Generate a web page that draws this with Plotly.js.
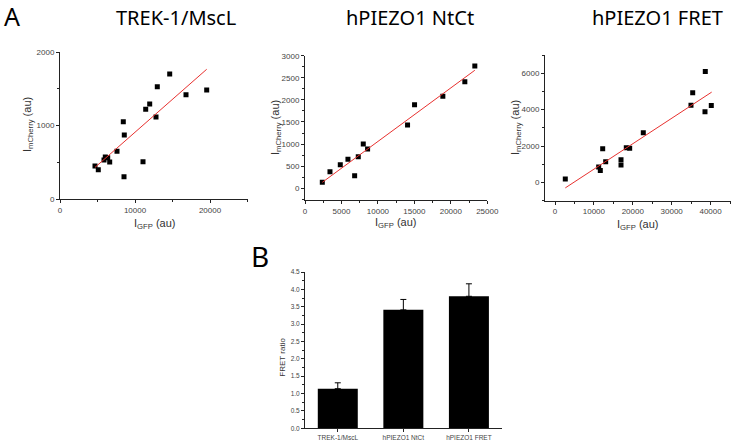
<!DOCTYPE html>
<html>
<head>
<meta charset="utf-8">
<script src="https://cdn.plot.ly/plotly-3.0.1.min.js"></script>
<style>html,body{margin:0;padding:0;background:#fff;}#chart{width:733px;height:441px;}</style>
</head>
<body>
<div id="chart"></div>
<script>
// Panel A1: TREK-1/MscL
const trekGFP = [4667,5107,5867,6040,6360,6627,7600,8440,8573,8533,11067,11427,11960,12800,12973,14627,16800,19560];
const trekCherry = [449,399,531,571,562,503,649,1052,871,303,508,1220,1292,1116,1528,1700,1419,1483];
const trekFitX = [4667,19560];
const trekFitY = [430,1765];
// Panel A2: hPIEZO1 NtCt
const ntctGFP = [2374,3425,4840,5890,6808,7306,7991,8584,14064,15023,18904,21918,23288];
const ntctCherry = [135,376,535,656,285,716,1002,889,1432,1892,2081,2412,2767];
const ntctFitX = [2374,23288];
const ntctFitY = [135,2670];
// Panel A3: hPIEZO1 FRET
const fretGFP = [2650,11230,11650,12260,13030,16970,16970,18330,19200,22700,34960,35400,38560,38640,40180];
const fretCherry = [198,857,659,1846,1132,1242,967,1901,1885,2725,4247,4923,3879,6099,4231];
const fretFitX = [2650,40280];
const fretFitY = [-297,4962];
// Panel B: FRET ratio bars
const barCats = ['TREK-1/MscL','hPIEZO1 NtCt','hPIEZO1 FRET'];
const barVals = [1.14,3.41,3.80];
const barErr = [0.17,0.30,0.36];

const W = 733, H = 441;
const px = v => v / W;
const py = v => 1 - v / H;

const mk = {symbol:'square', size:5, color:'#000'};
const ln = {color:'#e8312f', width:1};
const traces = [
  {x:trekGFP, y:trekCherry, type:'scatter', mode:'markers', marker:mk, xaxis:'x', yaxis:'y'},
  {x:trekFitX, y:trekFitY, type:'scatter', mode:'lines', line:ln, xaxis:'x', yaxis:'y'},
  {x:ntctGFP, y:ntctCherry, type:'scatter', mode:'markers', marker:mk, xaxis:'x2', yaxis:'y2'},
  {x:ntctFitX, y:ntctFitY, type:'scatter', mode:'lines', line:ln, xaxis:'x2', yaxis:'y2'},
  {x:fretGFP, y:fretCherry, type:'scatter', mode:'markers', marker:mk, xaxis:'x3', yaxis:'y3'},
  {x:fretFitX, y:fretFitY, type:'scatter', mode:'lines', line:ln, xaxis:'x3', yaxis:'y3'},
  {x:barCats, y:barVals, type:'bar', width:0.61, marker:{color:'#000'},
   error_y:{type:'data', array:barErr, arrayminus:[0,0,0], symmetric:false, color:'#000', thickness:1, width:3},
   xaxis:'x4', yaxis:'y4'}
];

const tickFont = {family:'Liberation Sans, Arial, sans-serif', size:8, color:'#444'};
function ax(domain, range, dtick, minorDtick, anchor, fontSize, fmt) {
  const a = {
    domain: domain, range: range, anchor: anchor,
    showgrid:false, zeroline:false, showline:true, linecolor:'#222', linewidth:1,
    ticks:'outside', ticklen:3, tickwidth:1, tickcolor:'#222',
    tickformat: fmt || 'd', separatethousands:false, exponentformat:'none',
    tickfont: Object.assign({}, tickFont, fontSize ? {size:fontSize} : {}),
    fixedrange:true
  };
  if (dtick) { a.dtick = dtick; a.tick0 = 0; }
  if (minorDtick) a.minor = {dtick:minorDtick, tick0:0, ticks:'outside', ticklen:2, tickcolor:'#222', showgrid:false};
  return a;
}

const titleFont = {family:'Noto Sans, Open Sans, sans-serif', size:20, color:'#000'};
const axTitleFont = {family:'Liberation Sans, Arial, sans-serif', size:11, color:'#333'};
function ann(text, x, y, font, angle) {
  return {text:text, xref:'paper', yref:'paper', x:px(x), y:py(y), xanchor:'center', yanchor:'middle',
          showarrow:false, font:font, textangle: angle || 0};
}

const xa4 = ax([px(305), px(501.7)], [-0.5,2.5], null, null, 'y4', 6.5);
xa4.type = 'category';
delete xa4.tickformat;

const layout = {
  width: W, height: H,
  margin:{l:0, r:0, t:0, b:0},
  paper_bgcolor:'#fff', plot_bgcolor:'#fff',
  showlegend:false,
  xaxis: ax([px(60), px(247.5)], [0,25000], 10000, 5000, 'y'),
  yaxis: ax([py(199), py(52)], [0,2000], 1000, 500, 'x'),
  xaxis2: ax([px(305), px(487.3)], [0,25000], 5000, 2500, 'y2'),
  yaxis2: ax([py(200), py(55.7)], [-265,3000], 500, 250, 'x2'),
  xaxis3: ax([px(545), px(730.7)], [-2570,45170], 10000, 5000, 'y3'),
  yaxis3: ax([py(200.7), py(55)], [-1000,7000], 2000, 1000, 'x3'),
  xaxis4: xa4,
  yaxis4: ax([py(428.3), py(272)], [0,4.5], 0.5, 0.25, 'x4', 6.5, '.1f'),
  annotations: [
    ann('A', 11.5, 16, {family:'Noto Sans, Open Sans, sans-serif', size:25, color:'#000'}),
    ann('B', 259.7, 256, {family:'Noto Sans, Open Sans, sans-serif', size:28, color:'#000'}),
    ann('TREK-1/MscL', 176, 17, titleFont),
    ann('hPIEZO1 NtCt', 410, 17, titleFont),
    ann('hPIEZO1 FRET', 657, 17, titleFont),
    ann('I<sub>mCherry</sub> (au)', 28, 125, axTitleFont, -90),
    ann('I<sub>mCherry</sub> (au)', 276, 128, axTitleFont, -90),
    ann('I<sub>mCherry</sub> (au)', 516, 128, axTitleFont, -90),
    ann('I<sub>GFP</sub> (au)', 155, 224, axTitleFont),
    ann('I<sub>GFP</sub> (au)', 396, 223, axTitleFont),
    ann('I<sub>GFP</sub> (au)', 638, 225, axTitleFont),
    ann('FRET ratio', 281.7, 357, {family:'Liberation Sans, Arial, sans-serif', size:8, color:'#333'}, -90)
  ]
};

Plotly.newPlot('chart', traces, layout, {staticPlot:true, displayModeBar:false});
</script>
</body>
</html>
